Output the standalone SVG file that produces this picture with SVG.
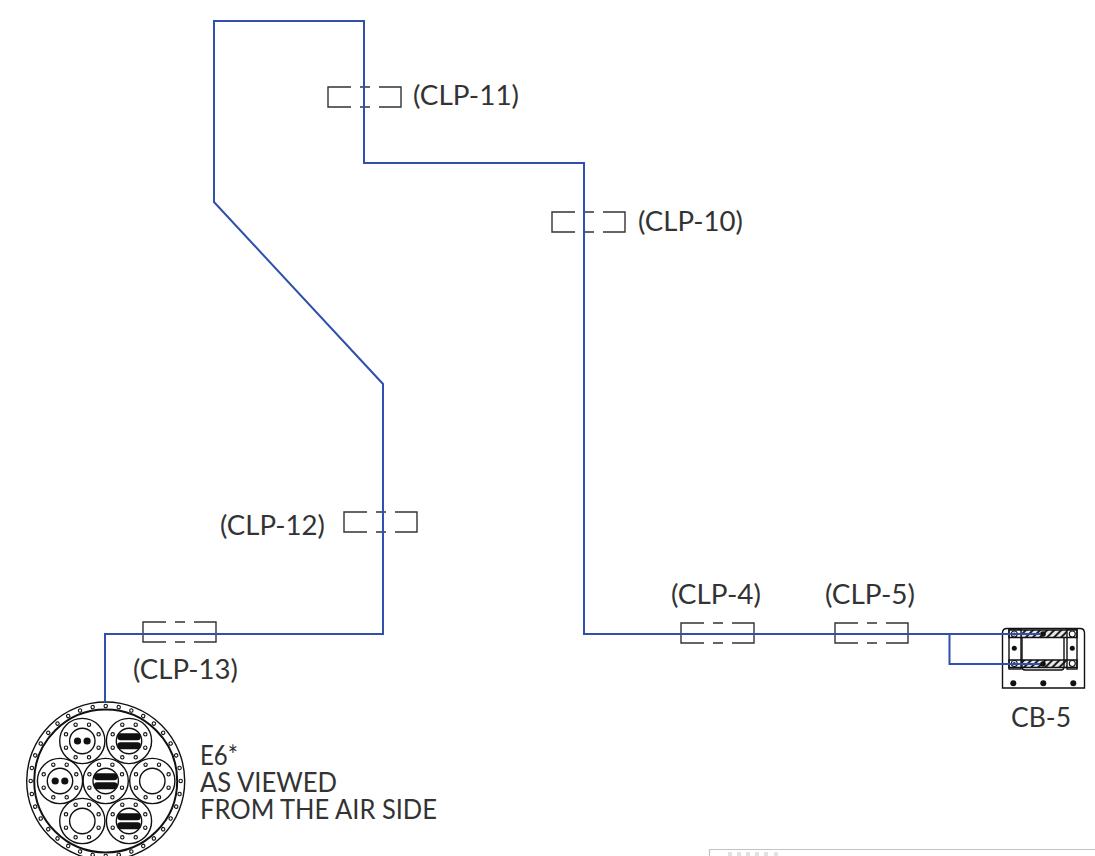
<svg xmlns="http://www.w3.org/2000/svg" width="1095" height="856" viewBox="0 0 1095 856">
<style>
text{font-family:"Lato","Liberation Sans",sans-serif;font-size:26px;fill:#333}
.c{fill:none;stroke:#333;stroke-width:1.4}
.b{fill:none;stroke:#2f50ad;stroke-width:2}
.k{fill:none;stroke:#111;stroke-width:1.4}
.h{fill:#fff;stroke:#111;stroke-width:1.1}
.f{fill:#111}
</style>
<defs>
<g id="clamp"><path class="c" d="M23 0H0V20H23M32 0H42M32 20H42M51 0H73V20H51"/></g>
<g id="sub"><circle class="k" r="22.6"/><circle class="k" r="12.7"/>
<g class="h"><circle cx="-6.7" cy="-16.3" r="1.7"/><circle cx="6.7" cy="-16.3" r="1.7"/><circle cx="-16.3" cy="-6.7" r="1.7"/><circle cx="16.3" cy="-6.7" r="1.7"/><circle cx="-16.3" cy="6.7" r="1.7"/><circle cx="16.3" cy="6.7" r="1.7"/><circle cx="-6.7" cy="16.3" r="1.7"/><circle cx="6.7" cy="16.3" r="1.7"/></g></g>
<g id="bars"><rect class="f" x="-11.7" y="-7.700" width="23.4" height="7" rx="3.200"/><rect class="f" x="-11.7" y="1.300" width="23.4" height="7" rx="3.200"/></g>
<g id="dots"><circle class="f" cx="-4.8" r="3.6"/><circle class="f" cx="4.8" r="3.6"/></g>
<circle id="hole" class="h" cx="105.700" cy="706" r="1.700"/>
<pattern id="hatch" width="5" height="5" patternUnits="userSpaceOnUse" patternTransform="rotate(45)"><rect width="5" height="5" fill="#e8e8e8"/><rect width="2" height="5" fill="#222"/></pattern>
</defs>
<g id="clp-11"><use href="#clamp" x="328" y="87"/><text x="413" y="105" textLength="106" lengthAdjust="spacingAndGlyphs">(CLP-11)</text></g>
<g id="clp-10"><use href="#clamp" x="552" y="212"/><text x="638" y="231" textLength="105" lengthAdjust="spacingAndGlyphs">(CLP-10)</text></g>
<g id="clp-12"><use href="#clamp" x="344" y="512"/><text x="220" y="534.500" textLength="105" lengthAdjust="spacingAndGlyphs">(CLP-12)</text></g>
<g id="clp-13"><use href="#clamp" x="143" y="622"/><text x="133" y="679" textLength="105" lengthAdjust="spacingAndGlyphs">(CLP-13)</text></g>
<g id="clp-4"><use href="#clamp" x="681" y="623"/><text x="671" y="604" textLength="90" lengthAdjust="spacingAndGlyphs">(CLP-4)</text></g>
<g id="clp-5"><use href="#clamp" x="835" y="623"/><text x="825" y="604" textLength="90" lengthAdjust="spacingAndGlyphs">(CLP-5)</text></g>
<g id="cb-5">
<path class="k" d="M1002.500 688V633Q1002.500 628.500 1007 628.500H1080Q1084.500 628.500 1084.500 633V688Z"/>
<rect x="1021" y="630" width="46" height="7.500" fill="url(#hatch)"/><rect x="1021" y="660" width="46" height="7.500" fill="url(#hatch)"/>
<rect class="k" x="1009" y="629" width="12" height="40"/><rect class="k" x="1067" y="629" width="10" height="40"/>
<path class="k" d="M1009 630H1077V637.500H1009ZM1009 660H1077V667.500H1009ZM1022 637.500V667Q1022 670 1025 670H1061Q1064 670 1064 667V637.500"/>
<g class="h"><circle cx="1014.300" cy="634" r="3"/><circle cx="1014.300" cy="663.500" r="3"/><circle cx="1072.300" cy="634" r="3"/><circle cx="1072.300" cy="663.500" r="3"/></g>
<g class="f"><circle cx="1014.300" cy="634" r="1.500"/><circle cx="1014.300" cy="663.500" r="1.500"/><circle cx="1043" cy="634" r="2.800"/><circle cx="1043" cy="664" r="2.800"/><circle cx="1014.300" cy="648.300" r="2.500"/><circle cx="1072.300" cy="648.300" r="2.500"/><circle cx="1013.300" cy="683.300" r="3"/><circle cx="1043.300" cy="683.300" r="3"/><circle cx="1073.300" cy="683.300" r="3"/></g>
<text x="1011" y="726.500" textLength="60" lengthAdjust="spacingAndGlyphs">CB-5</text>
</g>
<g id="e6">
<circle class="k" cx="105.700" cy="781" r="79"/><circle cx="105.700" cy="781" r="71.500" fill="none" stroke="#111" stroke-width="2"/>
<use href="#hole"/><use href="#hole" transform="rotate(10 105.700 781)"/><use href="#hole" transform="rotate(20 105.700 781)"/><use href="#hole" transform="rotate(30 105.700 781)"/><use href="#hole" transform="rotate(40 105.700 781)"/><use href="#hole" transform="rotate(50 105.700 781)"/><use href="#hole" transform="rotate(60 105.700 781)"/><use href="#hole" transform="rotate(70 105.700 781)"/><use href="#hole" transform="rotate(80 105.700 781)"/><use href="#hole" transform="rotate(90 105.700 781)"/><use href="#hole" transform="rotate(100 105.700 781)"/><use href="#hole" transform="rotate(110 105.700 781)"/><use href="#hole" transform="rotate(120 105.700 781)"/><use href="#hole" transform="rotate(130 105.700 781)"/><use href="#hole" transform="rotate(140 105.700 781)"/><use href="#hole" transform="rotate(150 105.700 781)"/><use href="#hole" transform="rotate(160 105.700 781)"/><use href="#hole" transform="rotate(170 105.700 781)"/><use href="#hole" transform="rotate(180 105.700 781)"/><use href="#hole" transform="rotate(190 105.700 781)"/><use href="#hole" transform="rotate(200 105.700 781)"/><use href="#hole" transform="rotate(210 105.700 781)"/><use href="#hole" transform="rotate(220 105.700 781)"/><use href="#hole" transform="rotate(230 105.700 781)"/><use href="#hole" transform="rotate(240 105.700 781)"/><use href="#hole" transform="rotate(250 105.700 781)"/><use href="#hole" transform="rotate(260 105.700 781)"/><use href="#hole" transform="rotate(270 105.700 781)"/><use href="#hole" transform="rotate(280 105.700 781)"/><use href="#hole" transform="rotate(290 105.700 781)"/><use href="#hole" transform="rotate(300 105.700 781)"/><use href="#hole" transform="rotate(310 105.700 781)"/><use href="#hole" transform="rotate(320 105.700 781)"/><use href="#hole" transform="rotate(330 105.700 781)"/><use href="#hole" transform="rotate(340 105.700 781)"/><use href="#hole" transform="rotate(350 105.700 781)"/>
<use href="#sub" x="82.300" y="741"/><use href="#dots" x="82.300" y="741"/>
<use href="#sub" x="129" y="741"/><use href="#bars" x="129" y="741"/>
<use href="#sub" x="60" y="781"/><use href="#dots" x="60" y="781"/>
<use href="#sub" x="105.700" y="781"/><use href="#bars" x="105.700" y="781"/>
<use href="#sub" x="152.300" y="781"/>
<use href="#sub" x="82.300" y="821"/>
<use href="#sub" x="129" y="821"/><use href="#bars" x="129" y="821"/>
<text x="200" y="765" textLength="38" lengthAdjust="spacingAndGlyphs">E6*</text><text x="200" y="792" textLength="137" lengthAdjust="spacingAndGlyphs">AS VIEWED</text><text x="200" y="819" textLength="237" lengthAdjust="spacingAndGlyphs">FROM THE AIR SIDE</text>
</g>
<g id="connectors"><path class="b" d="M105 702V634H383V384L214 202V21H364V163H584V634H1040M949.500 634V664H1040"/></g>
<g id="corner"><path d="M709.500 856V849.500H1095" fill="none" stroke="#c4c4c4" stroke-width="1.200"/><g fill="#e2e2e2"><rect x="728" y="852" width="4" height="4"/><rect x="737" y="852" width="4" height="4"/><rect x="746" y="852" width="4" height="4"/><rect x="755" y="852" width="4" height="4"/><rect x="764" y="852" width="4" height="4"/><rect x="774" y="852" width="4" height="4"/></g></g>
</svg>
